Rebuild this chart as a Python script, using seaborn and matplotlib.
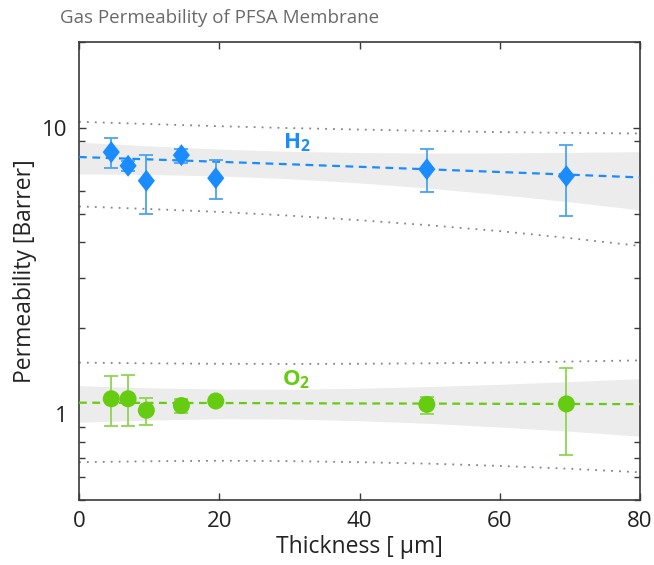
import numpy as np
import pandas as pd
import matplotlib
matplotlib.use("Agg")
import matplotlib.pyplot as plt
from matplotlib.ticker import LogLocator, FixedLocator, NullFormatter, FixedFormatter
import seaborn as sns

# Measured permeabilities (Barrer) vs membrane thickness (um)
thickness = [4.6, 7.0, 9.6, 14.6, 19.5, 49.6, 69.5]
h2_perm = [8.24, 7.38, 6.54, 8.04, 6.68, 7.18, 6.79]
h2_lo = [7.24, 7.10, 4.99, 7.54, 5.64, 5.98, 4.91]
h2_hi = [9.26, 7.70, 8.07, 8.47, 7.72, 8.44, 8.71]
o2_perm = [1.13, 1.13, 1.03, 1.07, 1.11, 1.08, 1.084]
o2_lo = [0.906, 0.908, 0.917, 1.008, 1.09, 1.00, 0.716]
o2_hi = [1.36, 1.37, 1.14, 1.126, 1.13, 1.15, 1.45]

# Linear trend, confidence band and prediction interval
fit_x = [0, 10, 20, 30, 40, 50, 60, 70, 80]
h2_fit = [7.92, 7.77, 7.62, 7.47, 7.32, 7.17, 7.02, 6.87, 6.72]
h2_ci_lo = [6.91, 6.88, 6.80, 6.65, 6.43, 6.16, 5.85, 5.52, 5.17]
h2_ci_hi = [8.93, 8.66, 8.44, 8.29, 8.21, 8.18, 8.19, 8.22, 8.27]
h2_pi_lo = [5.32, 5.21, 5.09, 4.94, 4.76, 4.57, 4.36, 4.12, 3.87]
h2_pi_hi = [10.52, 10.33, 10.15, 10.00, 9.88, 9.77, 9.68, 9.62, 9.57]
o2_fit = [1.095, 1.093, 1.092, 1.090, 1.088, 1.087, 1.085, 1.084, 1.082]
o2_ci_lo = [0.935, 0.952, 0.962, 0.960, 0.947, 0.927, 0.900, 0.870, 0.836]
o2_ci_hi = [1.255, 1.234, 1.222, 1.220, 1.229, 1.247, 1.270, 1.298, 1.328]
o2_pi_lo = [0.678, 0.683, 0.686, 0.684, 0.678, 0.670, 0.658, 0.643, 0.625]
o2_pi_hi = [1.512, 1.503, 1.498, 1.496, 1.498, 1.504, 1.512, 1.525, 1.539]

x_ticks = [0, 20, 40, 60, 80]
y_ticks = [1, 10]
y_tick_labels = ["1", "10"]

sns.set_theme(style="ticks")
plt.rcParams["font.family"] = ["Open Sans", "DejaVu Sans"]
plt.rcParams["mathtext.fontset"] = "custom"
plt.rcParams["mathtext.rm"] = "Open Sans"
plt.rcParams["mathtext.bf"] = "Open Sans:bold"

BLUE = "#1a8cff"
BLUE_ERR = "#4aa3f5"
GREEN = "#66cc11"
GREEN_ERR = "#8fd452"
SPINE = "#3a3a3a"

fig = plt.figure(figsize=(6.54, 5.65), dpi=100)
ax = fig.add_axes([79 / 654, 65 / 565, 561 / 654, 458 / 565])
ax.set_yscale("log")

fit_df = pd.DataFrame({"x": fit_x, "h2": h2_fit, "o2": o2_fit})
pts = pd.DataFrame({"x": thickness, "h2": h2_perm, "o2": o2_perm})

# confidence bands
ax.fill_between(fit_x, h2_ci_lo, h2_ci_hi, color="#ececec", lw=0, zorder=1)
ax.fill_between(fit_x, o2_ci_lo, o2_ci_hi, color="#ececec", lw=0, zorder=1)

# prediction intervals
for arr in (h2_pi_lo, h2_pi_hi, o2_pi_lo, o2_pi_hi):
    ax.plot(fit_x, arr, color="#858585", lw=1.3, ls=(0, (1, 3.4)), zorder=2)

# trend lines
sns.lineplot(data=fit_df, x="x", y="h2", color=BLUE, lw=1.6, ax=ax,
             dashes=False, zorder=3, linestyle=(0, (3.5, 2.5)))
sns.lineplot(data=fit_df, x="x", y="o2", color=GREEN, lw=1.6, ax=ax,
             dashes=False, zorder=3, linestyle=(0, (3.5, 2.5)))

# error bars
h2_err = [np.array(h2_perm) - np.array(h2_lo), np.array(h2_hi) - np.array(h2_perm)]
o2_err = [np.array(o2_perm) - np.array(o2_lo), np.array(o2_hi) - np.array(o2_perm)]
ax.errorbar(thickness, h2_perm, yerr=h2_err, fmt="none", ecolor=BLUE_ERR,
            elinewidth=1.3, capsize=4.8, capthick=1.3, zorder=4)
ax.errorbar(thickness, o2_perm, yerr=o2_err, fmt="none", ecolor=GREEN_ERR,
            elinewidth=1.3, capsize=4.8, capthick=1.3, zorder=4)

# markers
diamond = [(0, 1), (0.78, 0), (0, -1), (-0.78, 0), (0, 1)]
sns.scatterplot(data=pts, x="x", y="h2", marker=diamond, s=250, color=BLUE,
                edgecolor="none", ax=ax, zorder=5)
sns.scatterplot(data=pts, x="x", y="o2", marker="o", s=150, color=GREEN,
                edgecolor="none", ax=ax, zorder=5)

ax.text(31, 8.9, r"$\mathbf{H_2}$", color=BLUE, fontsize=16,
        ha="center", va="center", zorder=6)
ax.text(31, 1.32, r"$\mathbf{O_2}$", color=GREEN, fontsize=16,
        ha="center", va="center", zorder=6)

ax.set_xlim(0, 80)
ax.set_ylim(0.5, 20)
ax.xaxis.set_major_locator(FixedLocator(x_ticks))
ax.yaxis.set_major_locator(FixedLocator(y_ticks))
ax.yaxis.set_major_formatter(FixedFormatter(y_tick_labels))
ax.yaxis.set_minor_locator(LogLocator(base=10, subs=np.arange(2, 10)))
ax.yaxis.set_minor_formatter(NullFormatter())

ax.tick_params(axis="both", which="both", direction="in", top=True, right=True,
               color=SPINE, width=1.0, labelsize=16, labelcolor="#222222", pad=8)
ax.tick_params(axis="both", which="major", length=5)
ax.tick_params(axis="y", which="minor", length=4.5)
for sp in ax.spines.values():
    sp.set_color(SPINE)
    sp.set_linewidth(1.2)

ax.set_xlabel("Thickness [ μm]", fontsize=16.5, color="#222222", labelpad=2)
ax.set_ylabel("Permeability [Barrer]", fontsize=16.5, color="#222222", labelpad=4)

fig.text(60 / 654, 1 - 18 / 565, "Gas Permeability of PFSA Membrane",
         fontsize=13.5, color="#6a6a6a", ha="left", va="center")

fig.savefig("out.png", dpi=100)
